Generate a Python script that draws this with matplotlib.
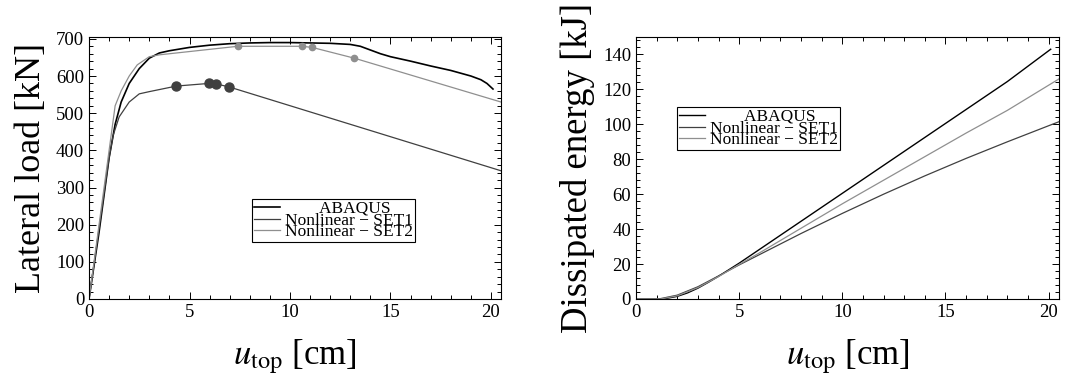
import numpy as np
import matplotlib
matplotlib.use('Agg')
import matplotlib.pyplot as plt
from matplotlib.ticker import MultipleLocator

plt.rcParams['font.family'] = ['Liberation Serif', 'DejaVu Serif']
plt.rcParams['mathtext.fontset'] = 'stix'

# ── Lateral load vs top displacement ─────────────────────────────────────────
abaqus_u = [0, 0.5, 1.0, 1.3, 1.6, 2.0, 2.5, 3.0, 3.5, 4, 5, 6, 7, 8, 9, 10,
            11, 12, 13, 13.5, 14, 14.5, 15, 16, 17, 18, 19, 19.5, 19.8, 20.1]
abaqus_f = [0, 180, 380, 470, 530, 580, 620, 648, 662, 668, 677, 683, 687, 689,
            690, 690, 689, 688, 685, 680, 670, 660, 652, 640, 627, 615, 600,
            590, 580, 565]

set1_u = [0, 1.0, 1.2, 1.5, 2.0, 2.5, 3.0, 4.35, 5.95, 6.3, 6.95, 20.5]
set1_f = [0, 380, 440, 490, 530, 552, 558, 573, 580, 579, 571, 345]
set1_mark_u = [4.35, 5.95, 6.3, 6.95]
set1_mark_f = [573, 580, 579, 571]

set2_u = [0, 1.0, 1.3, 1.6, 2.0, 2.4, 3.0, 3.5, 7.4, 10.6, 11.1, 13.2, 20.5]
set2_f = [0, 400, 520, 560, 600, 630, 652, 657, 680, 680, 677, 648, 530]
set2_mark_u = [7.4, 10.6, 11.1, 13.2]
set2_mark_f = [680, 680, 677, 648]

# ── Dissipated energy vs top displacement ────────────────────────────────────
abaqus_eu = [0, 1.2, 1.5, 2, 2.5, 3, 3.5, 4, 5, 6, 8, 10, 12, 14, 16, 18, 20.1]
abaqus_e = [0, 0, 0.4, 1.5, 3.5, 6.2, 9.5, 13, 20.5, 28.5, 44.5, 60.5, 76.5,
            92.5, 108.5, 124.5, 143]
set1_eu = [0, 1.1, 2, 3, 4, 5, 6, 8, 10, 12, 14, 16, 18, 20.5]
set1_e = [0, 0, 2.2, 7, 13.2, 19.5, 25.5, 37.5, 49, 60, 70.5, 80.5, 90, 101.5]
set2_eu = [0, 1.2, 2, 3, 4, 5, 6, 8, 10, 12, 14, 16, 18, 20.5]
set2_e = [0, 0, 1.8, 6.5, 12.8, 19.8, 26.5, 40.5, 54.5, 68, 81.5, 95, 108, 126]

labels = ['        ABAQUS', 'Nonlinear \u2212 SET1', 'Nonlinear \u2212 SET2']
col_abq, col_s1, col_s2 = 'black', '#404040', '#8f8f8f'

fig = plt.figure(figsize=(10.66, 3.87), dpi=100)
ax1 = fig.add_axes([0.0835, 0.2274, 0.3865, 0.677])
ax2 = fig.add_axes([0.5966, 0.2274, 0.3968, 0.677])


def style_axes(ax, ymaj, ymin):
    ax.xaxis.set_major_locator(MultipleLocator(5))
    ax.xaxis.set_minor_locator(MultipleLocator(1))
    ax.yaxis.set_major_locator(MultipleLocator(ymaj))
    ax.yaxis.set_minor_locator(MultipleLocator(ymin))
    ax.tick_params(which='both', direction='in', top=True, right=True,
                   labelsize=13.5, width=0.7)
    ax.tick_params(which='major', length=5)
    ax.tick_params(which='minor', length=3)
    for s in ax.spines.values():
        s.set_linewidth(0.8)
    ax.set_xlabel(r'$u_{\mathrm{top}}$ [cm]', fontsize=25, labelpad=12)


# Panel 1
ax1.plot(abaqus_u, abaqus_f, color=col_abq, lw=1.2, label=labels[0])
ax1.plot(set1_u, set1_f, color=col_s1, lw=0.9, label=labels[1])
ax1.plot(set2_u, set2_f, color=col_s2, lw=0.9, label=labels[2])
ax1.plot(set1_mark_u, set1_mark_f, 'o', color=col_s1, ms=6.5, zorder=5)
ax1.plot(set2_mark_u, set2_mark_f, 'o', color=col_s2, ms=4.5, zorder=5)
ax1.set_xlim(0, 20.5)
ax1.set_ylim(0, 705)
style_axes(ax1, 100, 20)
ax1.set_ylabel('Lateral load [kN]', fontsize=26, labelpad=6)

# Panel 2
ax2.plot(abaqus_eu, abaqus_e, color=col_abq, lw=1.0, label=labels[0])
ax2.plot(set1_eu, set1_e, color=col_s1, lw=0.9, label=labels[1])
ax2.plot(set2_eu, set2_e, color=col_s2, lw=0.9, label=labels[2])
ax2.set_xlim(0, 20.5)
ax2.set_ylim(0, 150)
style_axes(ax2, 20, 4)
ax2.set_ylabel('Dissipated energy [kJ]', fontsize=26.5, labelpad=6)

for ax, anchor in [(ax1, (0.396, 0.382)), (ax2, (0.097, 0.733))]:
    leg = ax.legend(loc='upper left', bbox_to_anchor=anchor, fontsize=12.5,
                    frameon=True, fancybox=False, edgecolor='black',
                    framealpha=1, borderpad=0.1, borderaxespad=0,
                    labelspacing=-0.25, handlelength=1.5, handletextpad=0.3)
    leg.get_frame().set_linewidth(0.8)

fig.savefig('out.png', dpi=100)
